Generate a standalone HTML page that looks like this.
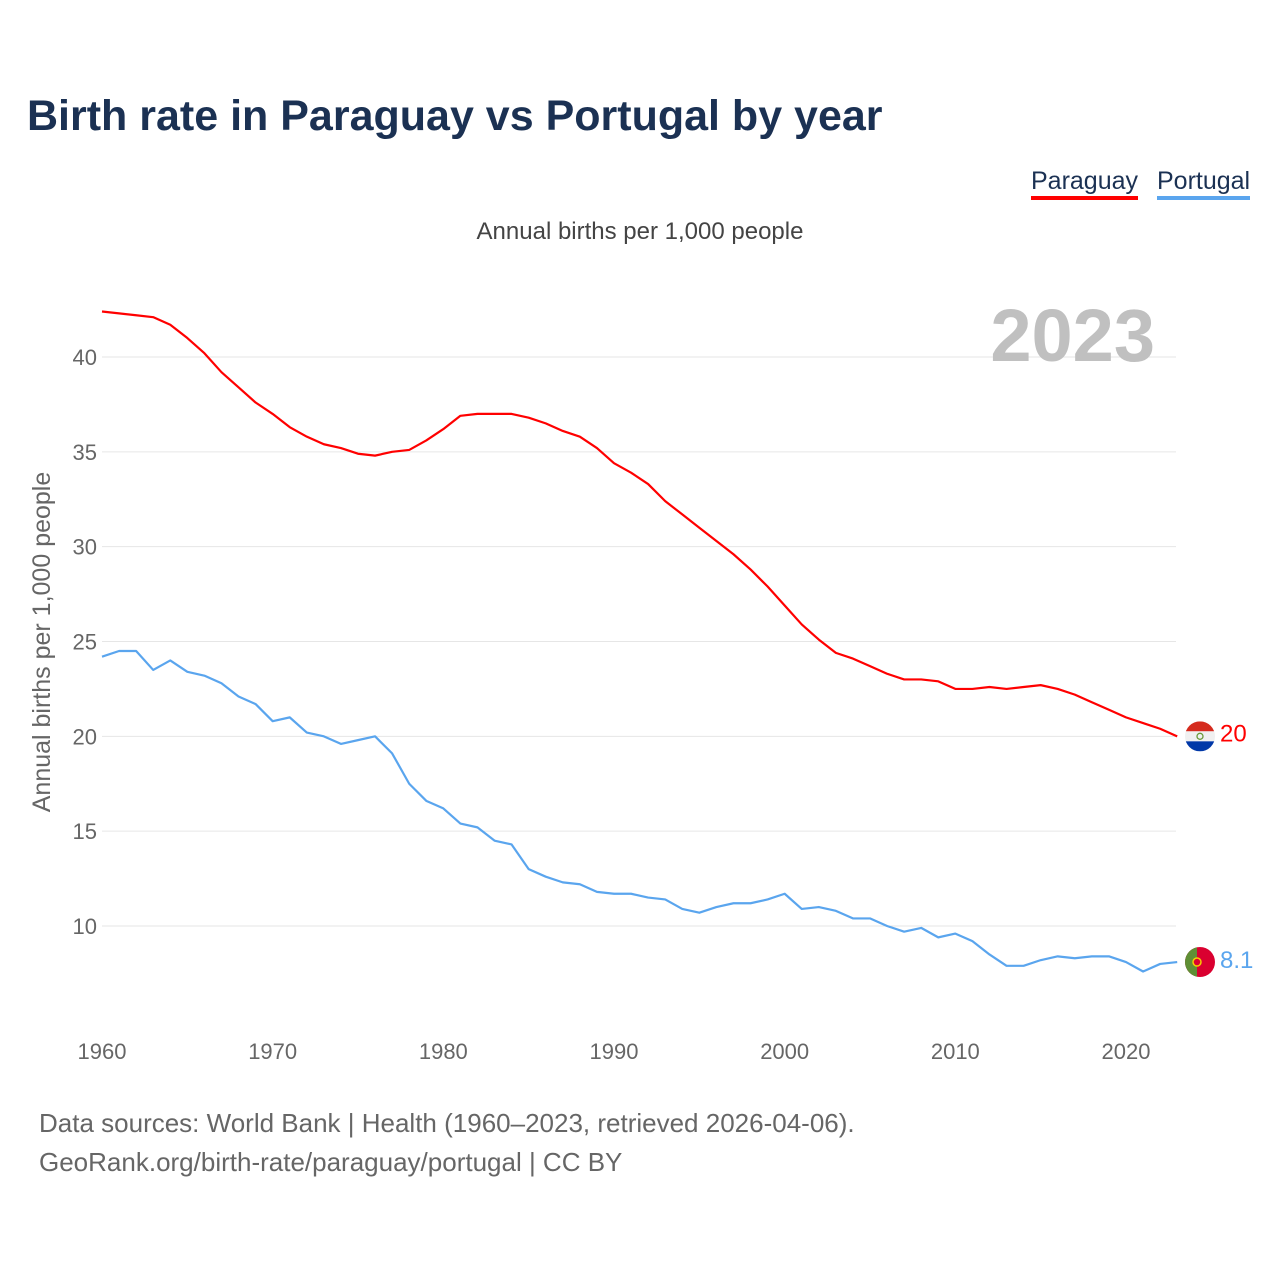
<!DOCTYPE html>
<html><head><meta charset="utf-8"><style>
body{margin:0;background:#fff;font-family:"Liberation Sans",sans-serif;}
#wrap{position:relative;width:1280px;height:1280px;overflow:hidden;}
.t{position:absolute;white-space:nowrap;}
</style></head><body>
<div id="wrap">
<div class="t" style="left:27px;top:92px;font-size:43px;font-weight:bold;color:#1b3153;">Birth rate in Paraguay vs Portugal by year</div>
<div class="t" style="left:1031px;top:166px;font-size:25px;color:#1b3153;border-bottom:4px solid #ff0000;line-height:30px;">Paraguay</div>
<div class="t" style="left:1157px;top:166px;font-size:25px;color:#1b3153;border-bottom:4px solid #5aa5ee;line-height:30px;">Portugal</div>
<div class="t" style="left:0;width:1280px;text-align:center;top:218px;font-size:24px;color:#444;">Annual births per 1,000 people</div>
<div class="t" style="left:39px;top:1104px;font-size:26px;color:#666;line-height:39px;">Data sources: World Bank | Health (1960–2023, retrieved 2026-04-06).<br>GeoRank.org/birth-rate/paraguay/portugal | CC BY</div>
<svg id="plot" width="1280" height="1280" style="position:absolute;left:0;top:0"></svg>
</div>
<script>
const years=[];for(let y=1960;y<=2023;y++)years.push(y);
const paraguay=[42.4,42.3,42.2,42.1,41.7,41.0,40.2,39.2,38.4,37.6,37.0,36.3,35.8,35.4,35.2,34.9,34.8,35.0,35.1,35.6,36.2,36.9,37.0,37.0,37.0,36.8,36.5,36.1,35.8,35.2,34.4,33.9,33.3,32.4,31.7,31.0,30.3,29.6,28.8,27.9,26.9,25.9,25.1,24.4,24.1,23.7,23.3,23.0,23.0,22.9,22.5,22.5,22.6,22.5,22.6,22.7,22.5,22.2,21.8,21.4,21.0,20.7,20.4,20.0];
const portugal=[24.2,24.5,24.5,23.5,24.0,23.4,23.2,22.8,22.1,21.7,20.8,21.0,20.2,20.0,19.6,19.8,20.0,19.1,17.5,16.6,16.2,15.4,15.2,14.5,14.3,13.0,12.6,12.3,12.2,11.8,11.7,11.7,11.5,11.4,10.9,10.7,11.0,11.2,11.2,11.4,11.7,10.9,11.0,10.8,10.4,10.4,10.0,9.7,9.9,9.4,9.6,9.2,8.5,7.9,7.9,8.2,8.4,8.3,8.4,8.4,8.1,7.6,8.0,8.1];
const yTicks=[10,15,20,25,30,35,40];
const xTicks=[1960,1970,1980,1990,2000,2010,2020];
const X=v=>102+(v-1960)*1024/60;
const Y=v=>357+(40-v)*569/30;
const svg=document.getElementById('plot');const NS='http://www.w3.org/2000/svg';
function mk(tag,attrs,parent){const e=document.createElementNS(NS,tag);for(const k in attrs)e.setAttribute(k,attrs[k]);(parent||svg).appendChild(e);return e;}
yTicks.forEach(v=>{
 const l=mk('line',{x1:102,x2:1176,y1:Y(v),y2:Y(v),stroke:'#e6e6e6','stroke-width':1});
 
 
 const t=mk('text',{x:97,y:Y(v)+8,'text-anchor':'end','font-size':22,fill:'#666','font-family':'Liberation Sans'});t.textContent=v;
 
 
});
xTicks.forEach(v=>{
 const t=mk('text',{x:X(v),y:1059,'text-anchor':'middle','font-size':22,fill:'#666','font-family':'Liberation Sans'});t.textContent=v;
 
 
});
const yt=mk('text',{x:0,y:0,transform:'translate(50,642) rotate(-90)','text-anchor':'middle','font-size':25,fill:'#666','font-family':'Liberation Sans'});yt.textContent='Annual births per 1,000 people';


const yr=mk('text',{x:1155,y:361,'text-anchor':'end','font-size':74,'font-weight':'bold',fill:'#c0c0c0','font-family':'Liberation Sans'});yr.textContent='2023';


function line(data,color,name){
 const p=mk('polyline',{points:data.map((v,i)=>X(years[i])+','+Y(v)).join(' '),fill:'none',stroke:color,'stroke-width':2.2,'stroke-linejoin':'round'});
 
 
}
line(paraguay,'#ff0000','paraguay-line');
line(portugal,'#5aa5ee','portugal-line');
const lp=paraguay[paraguay.length-1], lt=portugal[portugal.length-1];
const cx=1200;
const defs=mk('defs',{});
const c1=mk('clipPath',{id:'cp1'},defs);mk('circle',{cx:cx,cy:Y(lp),r:15},c1);
const c2=mk('clipPath',{id:'cp2'},defs);mk('circle',{cx:cx,cy:Y(lt),r:15},c2);
const g1=mk('g',{'clip-path':'url(#cp1)'});


mk('rect',{x:cx-15,y:Y(lp)-15,width:30,height:10,fill:'#d52b1e'},g1);
mk('rect',{x:cx-15,y:Y(lp)-5,width:30,height:10,fill:'#f0f0f0'},g1);
mk('rect',{x:cx-15,y:Y(lp)+5,width:30,height:10,fill:'#0038a8'},g1);
mk('circle',{cx:cx,cy:Y(lp),r:3,fill:'none',stroke:'#6a9a3a','stroke-width':1.3},g1);
const g2=mk('g',{'clip-path':'url(#cp2)'});


mk('rect',{x:cx-15,y:Y(lt)-15,width:30,height:30,fill:'#da0030'},g2);
mk('rect',{x:cx-15,y:Y(lt)-15,width:12,height:30,fill:'#5f8f35'},g2);
mk('circle',{cx:cx-3,cy:Y(lt),r:4,fill:'#da0030',stroke:'#f5d000','stroke-width':1.5},g2);
const v1=mk('text',{x:1220,y:Y(lp)+5,'font-size':24,fill:'#ff0000','font-family':'Liberation Sans'});v1.textContent=lp;


const v2=mk('text',{x:1220,y:Y(lt)+6,'font-size':24,fill:'#5aa5ee','font-family':'Liberation Sans'});v2.textContent=lt;


</script>
</body></html>
